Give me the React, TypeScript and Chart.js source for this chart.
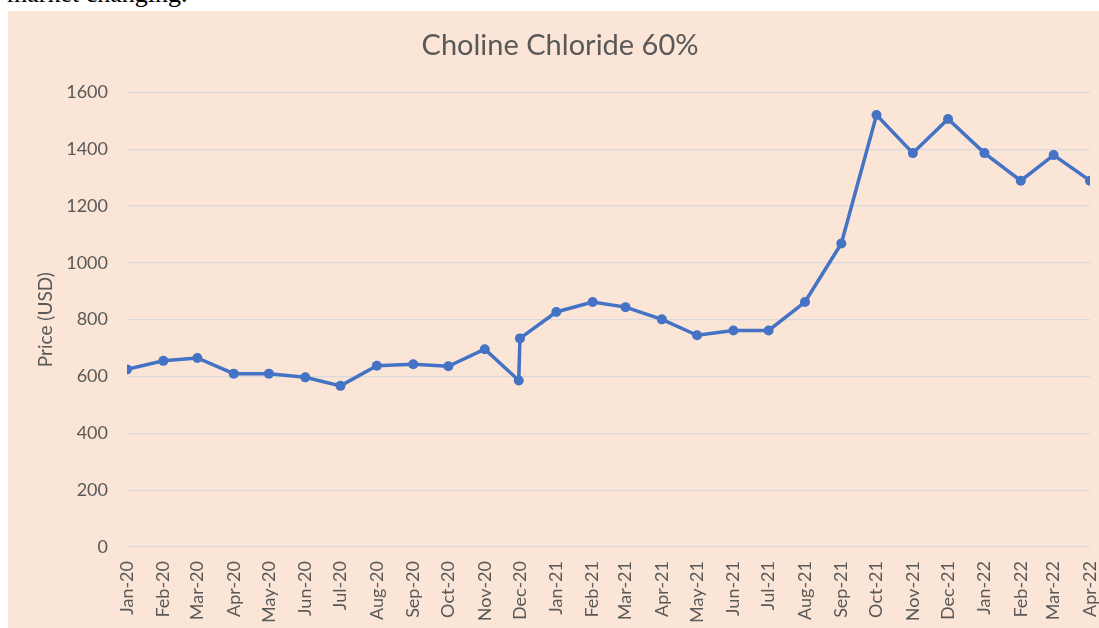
import React, { useEffect, useRef } from "react";
import { Chart, registerables } from "chart.js";

Chart.register(...registerables);

const chartTitle = "Choline Chloride 60%";
const yAxisTitle = "Price (USD)";

const pointDates = [
  "2020-01-01", "2020-02-01", "2020-03-01", "2020-04-01", "2020-05-01", "2020-06-01",
  "2020-07-01", "2020-08-01", "2020-09-01", "2020-10-01", "2020-11-01", "2020-11-30",
  "2020-12-01", "2021-01-01", "2021-02-01", "2021-03-01", "2021-04-01", "2021-05-01",
  "2021-06-01", "2021-07-01", "2021-08-01", "2021-09-01", "2021-10-01", "2021-11-01",
  "2021-12-01", "2022-01-01", "2022-02-01", "2022-03-01", "2022-04-01",
];

const prices = [
  625, 655, 665, 610, 610, 597, 567, 638, 643, 636, 696, 586,
  734, 827, 862, 844, 801, 745, 762, 762, 862, 1068, 1520, 1386,
  1506, 1386, 1289, 1379, 1289,
];

const tickLabels = [
  "Jan-20", "Feb-20", "Mar-20", "Apr-20", "May-20", "Jun-20", "Jul-20", "Aug-20",
  "Sep-20", "Oct-20", "Nov-20", "Dec-20", "Jan-21", "Feb-21", "Mar-21", "Apr-21",
  "May-21", "Jun-21", "Jul-21", "Aug-21", "Sep-21", "Oct-21", "Nov-21", "Dec-21",
  "Jan-22", "Feb-22", "Mar-22", "Apr-22",
];

const yTicks = [0, 200, 400, 600, 800, 1000, 1200, 1400, 1600];

const monthNames = ["Jan", "Feb", "Mar", "Apr", "May", "Jun", "Jul", "Aug", "Sep", "Oct", "Nov", "Dec"];
const BASE = Date.UTC(2020, 0, 1);
const DAY = 86400000;

function dayOfIso(s: string): number {
  const [y, m, d] = s.split("-").map(Number);
  return (Date.UTC(y, m - 1, d) - BASE) / DAY;
}
function dayOfLabel(l: string): number {
  const [mon, yy] = l.split("-");
  return (Date.UTC(2000 + Number(yy), monthNames.indexOf(mon), 1) - BASE) / DAY;
}

const TEXT = "#595959";
const FONT = "Lato";

export default function App() {
  const ref = useRef<HTMLCanvasElement | null>(null);

  useEffect(() => {
    if (!ref.current) return;
    const tickPos = tickLabels.map(dayOfLabel);
    const chart = new Chart(ref.current, {
      type: "line",
      data: {
        datasets: [
          {
            data: pointDates.map((d, i) => ({ x: dayOfIso(d), y: prices[i] })),
            borderColor: "#4472C4",
            backgroundColor: "#4472C4",
            borderWidth: 3.5,
            pointRadius: 5,
            pointBorderWidth: 0,
            pointBackgroundColor: "#4472C4",
            tension: 0,
          },
        ],
      },
      options: {
        responsive: false,
        animation: false,
        layout: { padding: { left: 13, right: 0, top: 0, bottom: 0 } },
        plugins: {
          legend: { display: false },
          tooltip: { enabled: false },
          title: {
            display: true,
            text: chartTitle,
            color: TEXT,
            font: { family: FONT, size: 29, weight: "normal" },
            padding: { top: 17, bottom: 29.5 },
          },
        },
        scales: {
          x: {
            type: "linear",
            min: tickPos[0],
            max: tickPos[tickPos.length - 1],
            grid: { display: false, drawTicks: false },
            border: { display: false },
            ticks: {
              autoSkip: false,
              minRotation: 90,
              maxRotation: 90,
              padding: 14,
              color: TEXT,
              font: { family: FONT, size: 18 },
              callback: (_v: any, i: number) => tickLabels[i],
            },
            afterBuildTicks: (scale: any) => {
              scale.ticks = tickPos.map((v) => ({ value: v }));
            },
            afterFit: (scale: any) => {
              scale.height = 81;
              scale.paddingLeft = 0;
              scale.paddingRight = 9;
            },
          },
          y: {
            min: 0,
            max: 1600,
            grid: { color: "#D9D9D9", lineWidth: 1.2, drawTicks: false },
            border: { display: false },
            afterBuildTicks: (scale: any) => {
              scale.ticks = yTicks.map((v) => ({ value: v }));
            },
            ticks: {
              padding: 19,
              color: TEXT,
              font: { family: FONT, size: 18 },
              callback: (v: any) => String(v),
            },
            title: {
              display: true,
              text: yAxisTitle,
              color: TEXT,
              font: { family: FONT, size: 19 },
              padding: { top: 13, bottom: 0 },
            },
            afterFit: (scale: any) => {
              scale.width = 106;
            },
          },
        },
      },
    });
    return () => chart.destroy();
  }, []);

  return (
    <div>
      <div
        style={{
          position: "absolute",
          left: 7,
          top: -19,
          fontFamily: "'Liberation Serif', serif",
          fontSize: 26,
          lineHeight: "26px",
          color: "#000",
          whiteSpace: "nowrap",
        }}
      >
        market changing.
      </div>
      <div
        style={{
          position: "absolute",
          left: 8,
          top: 11,
          width: 1091,
          height: 617,
          background: "#FBE5D6",
        }}
      >
        <canvas ref={ref} width={1091} height={617} style={{ display: "block", width: 1091, height: 617 }} />
      </div>
    </div>
  );
}
